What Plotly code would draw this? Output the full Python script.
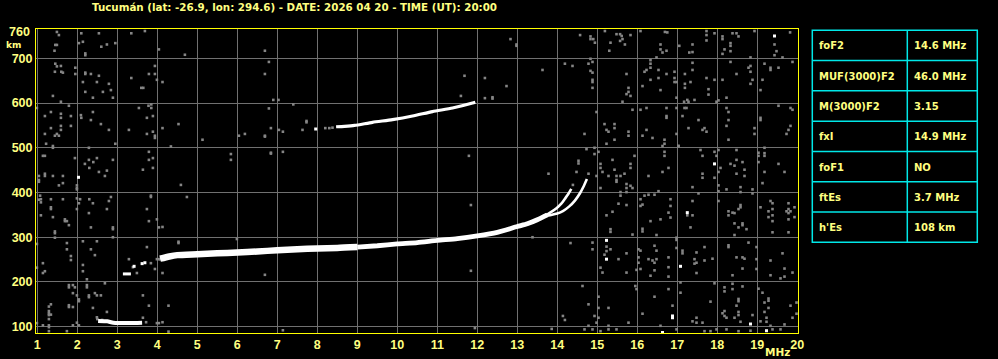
import plotly.graph_objects as go

# ---------------- data ----------------
# Lower F-layer trace (merged O/X part), frequency MHz / virtual height km
f_main_a = [4.07, 4.3, 4.5, 5.0, 5.5, 6.0, 6.5, 7.0, 7.5, 8.0, 8.5, 9.0]
h_main_a = [252, 257, 260, 262, 264, 266, 268, 271, 273, 275, 276, 278]
f_main_b = [9.0, 9.5, 10.0, 10.5, 11.0, 11.5, 12.0, 12.5, 13.0, 13.25, 13.5, 13.75]
h_main_b = [278, 281, 285, 288, 293, 297, 303, 311, 324, 330, 339, 350]
# split branches near the critical frequencies
f_branch_o = [13.6, 13.8, 13.98, 14.1, 14.19, 14.27, 14.35]
h_branch_o = [344, 354, 365, 375, 386, 396, 408]
f_branch_x = [13.75, 14.0, 14.15, 14.3, 14.44, 14.57, 14.66, 14.74]
h_branch_x = [348, 353, 359, 369, 382, 399, 414, 430]
# second-hop F trace
f_hop2 = [8.47, 8.68, 8.93, 9.38, 9.88, 10.38, 10.88, 11.38, 11.88, 11.95]
h_hop2 = [547, 548, 550, 557, 563, 571, 581, 589, 600, 602]
# sporadic-E trace
f_es = [2.52, 2.75, 2.9, 3.3, 3.62]
h_es = [113, 112, 109, 108, 109]
# small white echo fragments
f_frag = [3.14, 3.34]
h_frag = [218, 218]
f_white_dots = [2.03, 3.42, 3.62, 3.69, 7.96, 15.23, 15.23, 17.25, 17.08, 16.63, 16.88, 16.88,
                17.93, 19.43, 18.83, 19.23]
h_white_dots = [434, 235, 241, 243, 542, 293, 251, 355, 235, 87, 120, 124,
                464, 750, 106, 91]

# gray noise pixels (freq MHz, height km)
noise_low = [
    (1.49,759),(1.54,752),(1.45,730),(1.49,730),(1.43,717),(2.10,756),(2.04,734),(2.14,737),(2.54,756),
    (2.74,731),(2.60,726),(2.95,734),(3.35,756),(3.69,761),(2.20,711),(2.20,707),(4.04,720),
    (1.45,688),(1.49,682),(1.59,683),(1.44,670),(1.60,670),(1.64,668),(1.95,679),(1.95,665),(2.20,668),
    (2.20,665),(2.34,665),(2.54,661),(2.14,647),(2.49,647),(2.79,643),(2.84,629),(2.64,625),(2.89,612),
    (2.39,612),(2.20,625),(1.39,616),(1.59,603),(3.35,656),(3.60,634),(3.65,634),(3.79,665),(3.94,683),
    (3.94,665),(3.99,652),(3.78,594),(3.85,589),(3.85,597),(3.54,589),
    (1.34,580),(1.19,571),(1.59,576),(1.59,567),(1.84,571),(1.84,549),(1.59,549),(1.34,544),(1.59,540),
    (1.44,527),(1.49,531),(1.54,527),(1.19,531),(2.10,567),(2.09,573),(2.39,580),(2.34,562),(2.59,553),
    (2.79,540),(3.29,540),(3.74,567),(3.89,571),(3.74,531),(3.89,536),(3.94,527),(3.94,522),(2.95,509),
    (1.22,509),(1.39,504),(1.39,500),(1.79,594),(0.99,589),
    (2.29,500),(1.14,482),(1.19,482),(1.94,477),(2.49,477),(2.29,473),(2.40,468),(2.19,464),(2.30,455),
    (2.89,473),(3.79,491),(3.89,477),(3.79,473),(3.89,455),(3.64,451),(2.54,446),(2.74,449),(2.69,437),
    (1.64,437),(1.39,437),(1.19,442),(1.19,437),(1.04,437),(1.04,428),(1.04,424),(1.64,421),(1.54,416),
    (1.99,416),(1.99,410),(1.99,407),
    (1.07,393),(1.09,385),(1.04,384),(1.09,378),(1.34,385),(1.64,385),(1.34,367),(1.34,363),(1.99,387),
    (2.07,385),(2.30,385),(2.04,376),(2.39,376),(2.29,354),(2.84,390),(2.79,381),(2.74,363),(1.99,363),
    (1.09,349),(1.39,345),(1.69,340),(1.69,336),(1.74,336),(1.79,327),(1.44,313),(1.44,309),(1.44,299),
    (2.34,322),(2.89,322),(2.89,318),(2.89,300),(3.79,336),(3.74,363),(3.84,393),(3.84,390),(3.99,340),
    (4.04,322),
    (1.74,287),(1.74,273),(1.84,258),(1.84,249),(2.14,291),(2.49,291),(2.34,273),(2.44,260),(1.14,242),
    (1.19,224),(1.14,220),(2.14,238),(2.14,224),(2.24,206),(2.69,197),(3.29,251),(3.39,233),(3.49,220),
    (3.74,278),(3.84,242),(3.94,229),(3.99,251),(4.04,251),(4.07,251),(0.99,285),(0.99,232),
    (1.79,193),(1.79,188),(1.89,193),(1.94,188),(2.24,193),(2.24,188),(1.89,175),(1.99,170),(2.04,161),
    (2.04,157),(2.29,170),(2.29,166),(2.44,175),(2.49,170),(2.59,170),(1.34,150),(1.29,145),(1.29,135),
    (1.29,130),(1.29,126),(1.34,127),(1.29,117),(1.79,148),(1.79,144),(1.89,144),(2.39,142),(2.49,121),
    (2.74,133),(3.64,170),(3.79,147),(3.64,120),(1.14,103),(1.29,103),(1.29,99),(1.29,90),(1.89,103),
    (1.74,90),(1.99,109),(2.04,103),(3.99,108),(4.04,108),(0.99,108),
    (2.5,117),(2.62,115),(3.72,110),
]
noise_mid = [
    (4.69,708),(6.69,717),(6.79,692),(6.69,665),(4.13,647),(11.68,661),(12.19,656),(12.73,638),(12.83,743),
    (12.98,731),(12.98,728),(13.63,674),(14.19,688),(14.38,683),(11.59,616),(12.19,611),(12.38,613),
    (12.38,610),(6.90,607),(7.03,607),(7.40,597),(6.79,588),(7.73,560),(7.73,557),(4.13,544),(4.53,553),
    (5.13,518),(6.04,527),(6.19,531),(6.69,527),(6.69,525),(6.84,544),(7.04,540),(7.14,536),(7.63,540),
    (8.2,544),(8.3,544),(8.38,545),(4.34,503),(5.84,486),(5.84,473),(6.84,489),(6.84,487),(7.14,491),
    (11.79,482),(13.78,442),(4.59,417),(4.74,390),(11.84,372),(4.13,323),(4.53,290),(4.53,287),(5.99,296),
    (13.38,300),(14.33,287),(4.13,220),(6.69,216),(11.84,225),(4.28,147),(4.13,110),(4.28,89),(7.14,92),
    (11.94,97),(13.86,95),(14.14,124),(14.19,115),(14.53,471),(14.53,465),(14.48,446),(14.39,417),
]
noise_high = [
    (14.83,749),(14.83,743),(14.90,743),(14.94,735),(15.19,761),(15.48,754),(15.57,754),(15.61,750),
    (15.63,743),(15.57,739),(15.69,731),(15.83,752),(16.08,761),(15.33,735),(15.30,717),(16.58,731),
    (16.58,720),(16.63,713),(16.69,759),(16.75,758),(16.73,717),(17.05,728),(17.30,713),(16.48,702),
    (14.57,752),
    (14.83,699),(14.88,692),(14.78,688),(14.83,672),(14.88,668),(14.88,652),(14.88,647),(14.88,634),
    (15.73,665),(15.78,634),(15.78,625),(15.73,620),(15.83,616),(15.63,603),(16.33,696),(16.33,688),
    (16.33,679),(16.23,674),(16.18,670),(16.53,674),(16.33,652),(16.53,656),(16.58,629),(16.13,638),
    (16.73,665),(16.93,670),(16.93,656),(16.93,647),(16.98,647),(17.19,665),(17.19,643),(17.19,634),
    (16.98,612),(17.25,607),(17.28,603),(17.17,603),
    (14.98,580),(14.68,531),(15.18,553),(15.43,553),(15.43,544),(15.23,540),(15.28,536),(15.43,518),
    (15.23,509),(15.78,536),(15.78,527),(15.88,585),(16.08,585),(16.23,589),(16.13,527),(16.38,522),
    (16.23,540),(16.73,589),(16.73,571),(16.73,567),(16.68,518),(16.68,509),(16.63,504),(16.98,589),
    (16.98,531),(17.03,504),(17.18,589),(17.13,571),(17.23,589),(17.28,544),(14.73,497),(14.93,500),
    (14.93,486),
    (15.03,491),(15.08,464),(15.08,455),(15.13,446),(14.98,437),(14.78,442),(15.38,473),(15.43,451),
    (15.48,437),(15.48,428),(15.48,424),(15.58,437),(15.68,442),(15.73,419),(15.73,410),(15.83,464),
    (15.83,455),(15.93,482),(15.83,415),(15.88,410),(16.28,437),(16.63,446),(16.68,491),(16.78,455),
    (16.68,482),(17.03,504),(15.28,437),(15.08,410),(15.58,401),(15.73,401),
    (15.58,393),(15.73,372),(15.53,375),(16.08,385),(16.18,393),(16.08,370),(16.13,373),(16.28,395),
    (16.43,395),(16.53,403),(16.83,385),(16.83,370),(16.78,355),(16.83,344),(16.58,340),(16.33,336),
    (16.48,305),(16.13,319),(16.13,313),(15.88,306),(15.38,357),(15.23,349),(15.33,318),(15.33,312),
    (17.25,349),(16.98,299),(16.98,294),
    (14.88,288),(14.88,273),(15.23,279),(15.23,269),(15.18,261),(15.33,273),(15.53,251),(15.08,232),
    (15.13,221),(15.73,264),(15.73,221),(16.03,273),(16.08,270),(16.03,255),(16.03,243),(16.08,229),
    (15.98,227),(16.28,251),(16.38,248),(16.43,281),(16.48,270),(16.43,243),(16.48,251),(16.43,226),
    (16.33,214),(16.78,255),(16.78,233),(16.78,212),(16.98,276),(17.13,270),(17.13,264),
    (14.63,191),(15.03,167),(14.78,150),(15.03,142),(15.28,142),(15.03,120),(14.93,124),(14.98,109),
    (14.78,102),(14.68,94),(14.88,94),(15.28,102),(15.28,94),(15.48,94),(15.08,90),(15.95,191),
    (15.98,184),(16.13,129),(16.43,167),(16.58,102),(16.78,184),(16.88,147),(16.98,94),(17.08,176),
    (17.08,199),(15.78,109),
    (17.73,761),(17.73,752),(17.73,740),(17.93,756),(18.13,749),(18.13,743),(18.38,756),(18.48,756),
    (18.53,749),(18.33,734),(18.33,728),(18.33,716),(18.18,720),(18.13,710),(17.38,731),(17.38,714),
    (18.93,761),(19.43,731),(19.48,716),(19.43,707),(18.83,702),(19.63,702),(19.82,758),
    (17.38,690),(17.38,674),(17.33,647),(17.73,656),(17.78,631),(17.78,619),(17.93,652),(18.13,652),
    (18.23,612),(18.03,606),(17.98,603),(17.43,607),(18.48,665),(18.33,692),(18.78,679),(18.83,683),
    (18.83,670),(18.88,652),(18.83,643),(19.08,629),(19.18,688),(19.13,652),(19.33,679),(19.33,674),
    (19.53,679),(19.88,692),
    (17.53,562),(17.68,544),(17.63,540),(17.73,536),(18.23,589),(18.28,580),(18.28,562),(18.23,549),
    (18.28,518),(18.93,544),(18.93,531),(19.08,567),(19.08,562),(19.53,594),(19.83,589),(19.88,585),
    (19.78,540),(19.73,531),(19.83,549),
    (17.58,495),(17.63,482),(17.93,491),(17.98,482),(17.63,442),(17.63,433),(17.93,433),(17.38,412),
    (17.53,398),(18.03,495),(18.08,455),(18.03,446),(18.03,416),(18.03,403),(18.23,407),(18.33,464),
    (18.48,495),(18.48,473),(18.43,460),(18.63,468),(18.68,451),(18.68,437),(18.48,442),(18.58,412),
    (18.58,401),(18.88,407),(18.88,398),(19.03,489),(19.03,482),(19.03,468),(19.18,500),(19.18,488),
    (19.18,482),(19.18,446),(19.13,421),(19.53,464),(19.68,446),
    (17.38,381),(17.38,349),(17.33,322),(18.03,381),(18.28,358),(18.28,349),(18.38,355),(18.43,354),
    (18.53,363),(18.58,372),(18.58,367),(18.43,331),(18.63,331),(18.63,327),(18.53,322),(18.73,318),
    (18.43,305),(19.08,367),(19.28,358),(19.28,345),(19.33,381),(19.38,376),(19.38,363),(19.38,349),
    (19.38,336),(19.38,311),(19.78,376),(19.78,363),(19.78,354),(19.73,358),(19.83,358),(19.78,340),
    (19.93,367),(19.93,345),(19.78,311),
    (17.48,266),(17.43,251),(17.43,241),(17.48,243),(17.68,278),(17.68,248),(17.88,252),(17.48,220),
    (18.28,282),(18.28,278),(18.48,255),(18.63,255),(18.68,252),(18.78,288),(18.98,278),(18.98,251),
    (18.98,229),(18.38,215),(18.63,230),(19.33,248),(19.33,215),(19.63,264),(19.68,230),(19.58,208),
    (19.68,212),(19.88,221),
    (17.93,197),(17.83,156),(18.18,188),(18.18,179),(18.38,196),(18.38,184),(18.63,190),(18.53,162),
    (18.53,157),(18.48,147),(18.53,133),(18.53,126),(18.18,135),(18.13,130),(18.18,124),(18.23,120),
    (18.43,120),(18.58,111),(18.88,126),(17.48,120),(17.38,112),(17.63,109),(17.48,109),(17.68,90),
    (17.83,90),(17.98,94),(18.23,94),(18.53,90),(19.03,185),(19.13,176),(19.28,163),(19.28,158),
    (19.18,154),(19.28,142),(19.18,133),(19.23,120),(19.23,111),(19.08,112),(19.33,102),(19.38,94),
    (19.58,94),(19.83,147),(19.98,154),(19.98,129),(19.88,120),(19.68,105),(18.83,91),
]

# tick labels
x_ticks = list(range(1, 21))
y_ticks = [100, 200, 300, 400, 500, 600, 700]
y_top_label = 760

title_text = "Tucumán (lat: -26.9, lon: 294.6) - DATE: 2026 04 20 - TIME (UT): 20:00"

# parameter table
param_names = ["foF2", "MUF(3000)F2", "M(3000)F2", "fxI", "foF1", "ftEs", "h'Es"]
param_values = ["14.6 MHz", "46.0 MHz", "3.15", "14.9 MHz", "NO", "3.7 MHz", "108 km"]

# ---------------- style / layout ----------------
W, H = 998, 359
ML, MR, MT, MB = 36, 200, 29, 26
PW = W - ML - MR
PH = H - MT - MB
YEL = "#ffff80"
TICKFONT = "Liberation Sans"
TXTFONT = "DejaVu Sans"


def px(x):
    return (x - ML) / PW


def py(y):
    return (H - MB - y) / PH


fig = go.Figure()

# noise
for pts in (noise_low, noise_mid, noise_high):
    fig.add_trace(go.Scatter(
        x=[p[0] for p in pts], y=[p[1] for p in pts], mode="markers",
        marker=dict(symbol="square", size=2.6, color="#858585", line=dict(width=0)),
        hoverinfo="skip", showlegend=False))

# echo traces
def add_line(fx, hy, width):
    fig.add_trace(go.Scatter(x=fx, y=hy, mode="lines",
                             line=dict(color="white", width=width, shape="spline", smoothing=0.6),
                             hoverinfo="skip", showlegend=False))

add_line(f_main_a, h_main_a, 6.5)
add_line(f_main_b, h_main_b, 4.8)
add_line(f_branch_o, h_branch_o, 2.6)
add_line(f_branch_x, h_branch_x, 2.6)
add_line(f_hop2, h_hop2, 3.2)
add_line(f_es, h_es, 4)
add_line(f_frag, h_frag, 3)
fig.add_trace(go.Scatter(x=f_white_dots, y=h_white_dots, mode="markers",
                         marker=dict(symbol="square", size=3, color="white", line=dict(width=0)),
                         hoverinfo="skip", showlegend=False))

axis_common = dict(showgrid=True, gridcolor="#707070", gridwidth=1, zeroline=False,
                   showline=True, linecolor="#ffff00", linewidth=1, mirror=True,
                   automargin=False, ticks="",
                   tickfont=dict(family=TICKFONT, size=12.5, color=YEL, weight="bold"))

fig.update_layout(
    width=W, height=H,
    margin=dict(l=ML, r=MR, t=MT, b=MB, pad=0, autoexpand=False),
    paper_bgcolor="black", plot_bgcolor="black",
    xaxis=dict(range=[0.9675, 20.0175], tickvals=x_ticks, ticktext=[str(v) for v in x_ticks],
               ticklabelstandoff=0, **axis_common),
    yaxis=dict(range=[85.9, 765.6], tickvals=y_ticks, ticktext=[str(v) for v in y_ticks],
               **axis_common),
    showlegend=False,
)

annots = []
annots.append(dict(text=title_text, xref="paper", yref="paper", x=px(90), y=py(7),
                   xanchor="left", yanchor="middle", showarrow=False,
                   font=dict(family=TXTFONT, size=10.3, color=YEL, weight="bold")))
annots.append(dict(text=str(y_top_label), xref="paper", yref="y", x=px(32), y=y_top_label,
                   xanchor="right", yanchor="middle", showarrow=False,
                   font=dict(family=TICKFONT, size=12.5, color=YEL, weight="bold")))
annots.append(dict(text="km", xref="paper", yref="paper", x=px(13.5), y=py(45),
                   xanchor="center", yanchor="middle", showarrow=False,
                   font=dict(family=TXTFONT, size=9, color=YEL, weight="bold")))
annots.append(dict(text="MHz", xref="paper", yref="paper", x=px(777), y=py(352),
                   xanchor="center", yanchor="middle", showarrow=False,
                   font=dict(family=TXTFONT, size=10.5, color=YEL, weight="bold")))

# table
T_L, T_R, T_MID = 812.3, 977.3, 907.3
T_TOP, T_BOT = 30.3, 242.3
n = len(param_names)
row_h = (T_BOT - T_TOP) / n
shapes = []
CY = "#00e8e8"
shapes.append(dict(type="rect", xref="paper", yref="paper", x0=px(T_L), x1=px(T_R),
                   y0=py(T_BOT), y1=py(T_TOP), line=dict(color=CY, width=1.5)))
shapes.append(dict(type="line", xref="paper", yref="paper", x0=px(T_MID), x1=px(T_MID),
                   y0=py(T_BOT), y1=py(T_TOP), line=dict(color=CY, width=1.5)))
for i in range(1, n):
    yy = T_TOP + i * row_h
    shapes.append(dict(type="line", xref="paper", yref="paper", x0=px(T_L), x1=px(T_R),
                       y0=py(yy), y1=py(yy), line=dict(color=CY, width=1.5)))
for i, (name, val) in enumerate(zip(param_names, param_values)):
    yc = T_TOP + (i + 0.5) * row_h + 0.5
    annots.append(dict(text=name, xref="paper", yref="paper", x=px(T_L + 4.5), y=py(yc),
                       xanchor="left", yanchor="middle", showarrow=False,
                       font=dict(family=TXTFONT, size=10, color=YEL, weight="bold")))
    annots.append(dict(text=val, xref="paper", yref="paper", x=px(T_MID + 4.5), y=py(yc),
                       xanchor="left", yanchor="middle", showarrow=False,
                       font=dict(family=TXTFONT, size=10, color=YEL, weight="bold")))

fig.update_layout(annotations=annots, shapes=shapes)
fig.write_html("out.html")
